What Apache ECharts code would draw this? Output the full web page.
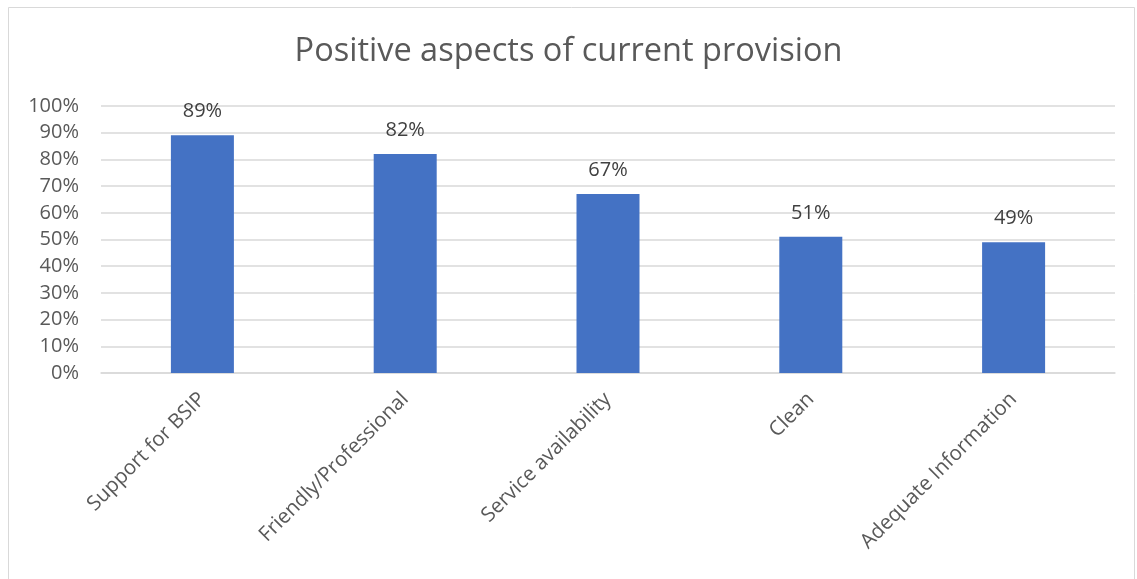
<!DOCTYPE html>
<html>
<head>
<meta charset="utf-8">
<script src="https://cdn.jsdelivr.net/npm/echarts@6/dist/echarts.min.js"></script>
<style>
  html, body { margin: 0; padding: 0; background: #fff; }
  #chart { width: 1137px; height: 579px; }
</style>
</head>
<body>
<div id="chart"></div>
<script>
const categories = ['Support for BSIP', 'Friendly/Professional', 'Service availability', 'Clean', 'Adequate Information']
const values = [89, 82, 67, 51, 49]
const yTicks = [0, 10, 20, 30, 40, 50, 60, 70, 80, 90, 100]

const fontFamily = '"Open Sans", "Noto Sans", sans-serif'
const chart = echarts.init(document.getElementById('chart'))

chart.setOption({
  backgroundColor: '#fff',
  animation: false,
  title: {
    text: 'Positive aspects of current provision',
    left: 'center',
    top: 30,
    textStyle: { fontFamily, fontSize: 32.5, fontWeight: 'normal', color: '#595959' }
  },
  graphic: [{
    type: 'rect',
    shape: { x: 8.5, y: 7.5, width: 1126, height: 600 },
    style: { fill: 'none', stroke: '#d9d9d9', lineWidth: 1 },
    silent: true
  }],
  grid: { left: 101, right: 22, top: 106, bottom: 206, containLabel: false },
  xAxis: {
    type: 'category',
    data: categories,
    axisTick: { show: false },
    axisLine: { lineStyle: { color: '#d9d9d9', width: 1.5 } },
    axisLabel: {
      rotate: 45,
      margin: 23,
      interval: 0,
      fontFamily,
      fontSize: 20.5,
      color: '#595959'
    }
  },
  yAxis: {
    type: 'value',
    min: yTicks[0],
    max: yTicks[yTicks.length - 1],
    interval: 10,
    axisLine: { show: false },
    axisTick: { show: false },
    splitLine: { lineStyle: { color: '#d9d9d9', width: 1.5 } },
    axisLabel: {
      margin: 22,
      fontFamily,
      fontSize: 20,
      color: '#595959',
      formatter: v => v + '%'
    }
  },
  series: [{
    type: 'bar',
    data: values,
    barWidth: 63,
    itemStyle: { color: '#4472C4' },
    label: {
      show: true,
      position: 'top',
      distance: 14,
      fontFamily,
      fontSize: 20,
      color: '#404040',
      formatter: p => p.value + '%'
    }
  }]
})
</script>
</body>
</html>
